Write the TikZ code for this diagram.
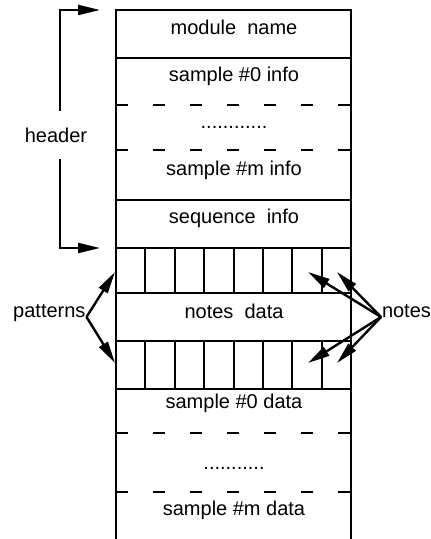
\documentclass[tikz,border=0pt]{standalone}
\usepackage{fontspec}
\setmainfont{Liberation Sans}
\usetikzlibrary{arrows.meta}

\begin{document}
\begin{tikzpicture}[x=0.5pt,y=-0.5pt,line width=1pt,
    lbl/.style={inner sep=0pt,font=\fontsize{10}{12}\selectfont},
    sep/.style={dash pattern=on 6pt off 12.5pt},
    ptr/.style={line width=1.2pt,-{Triangle[length=11pt,width=5pt]}}]
    \useasboundingbox (0,0) rectangle (430,539);

    % the box, open at the bottom
    \draw (116,539) -- (116,10) -- (351,10) -- (351,539);
    \foreach \y in {58,200,248,293,341,389}
        \draw (116,\y) -- (351,\y);
    \foreach \y in {105,150,433,492}
        \draw[sep] (116,\y) -- (351,\y);
    % pattern rows
    \foreach \x in {145.4,174.8,204.2,233.6,263,292.4,321.8} {
        \draw (\x,248) -- (\x,293);
        \draw (\x,341) -- (\x,389);
    }

    \node[lbl] (mod) at (234,27) {module\ \ name};
    \node[lbl] (s0i) at (234,76) {sample \#0 info};
    \node[lbl] (d1) at (234,127) {............};
    \node[lbl] (smi) at (234,170) {sample \#m info};
    \node[lbl] (seq) at (234,218) {sequence\ \ info};
    \node[lbl] (nd) at (234,311) {notes\ \ data};
    \node[lbl] (s0d) at (234,403) {sample \#0 data};
    \node[lbl] (d2) at (234,468) {...........};
    \node[lbl] (smd) at (234,510) {sample \#m data};

    \node[lbl,inner ysep=8pt] (hdr) at (56,135) {header};
    \node[lbl,anchor=base east] (pat) at (86.5,317) {patterns};
    \node[lbl,anchor=base west] (nts) at (381,317) {notes};

    \coordinate (htop) at (100,10);
    \coordinate (hbot) at (100,248);
    \coordinate (p1) at (115,272);
    \coordinate (p2) at (115,363);
    \coordinate (n1) at (308,272);
    \coordinate (n2) at (337,272);
    \coordinate (n3) at (308,363);
    \coordinate (n4) at (337,363);

    \draw[ptr] (hdr.north -| 60,0) -- (60,10) -- (htop);
    \draw[ptr] (hdr.south -| 60,0) -- (60,248) -- (hbot);
    \draw[ptr] (pat.base east) -- (p1);
    \draw[ptr] (pat.base east) -- (p2);
    \foreach \n in {n1,n2,n3,n4}
        \draw[ptr] (nts.base west) -- (\n);
\end{tikzpicture}
\end{document}
